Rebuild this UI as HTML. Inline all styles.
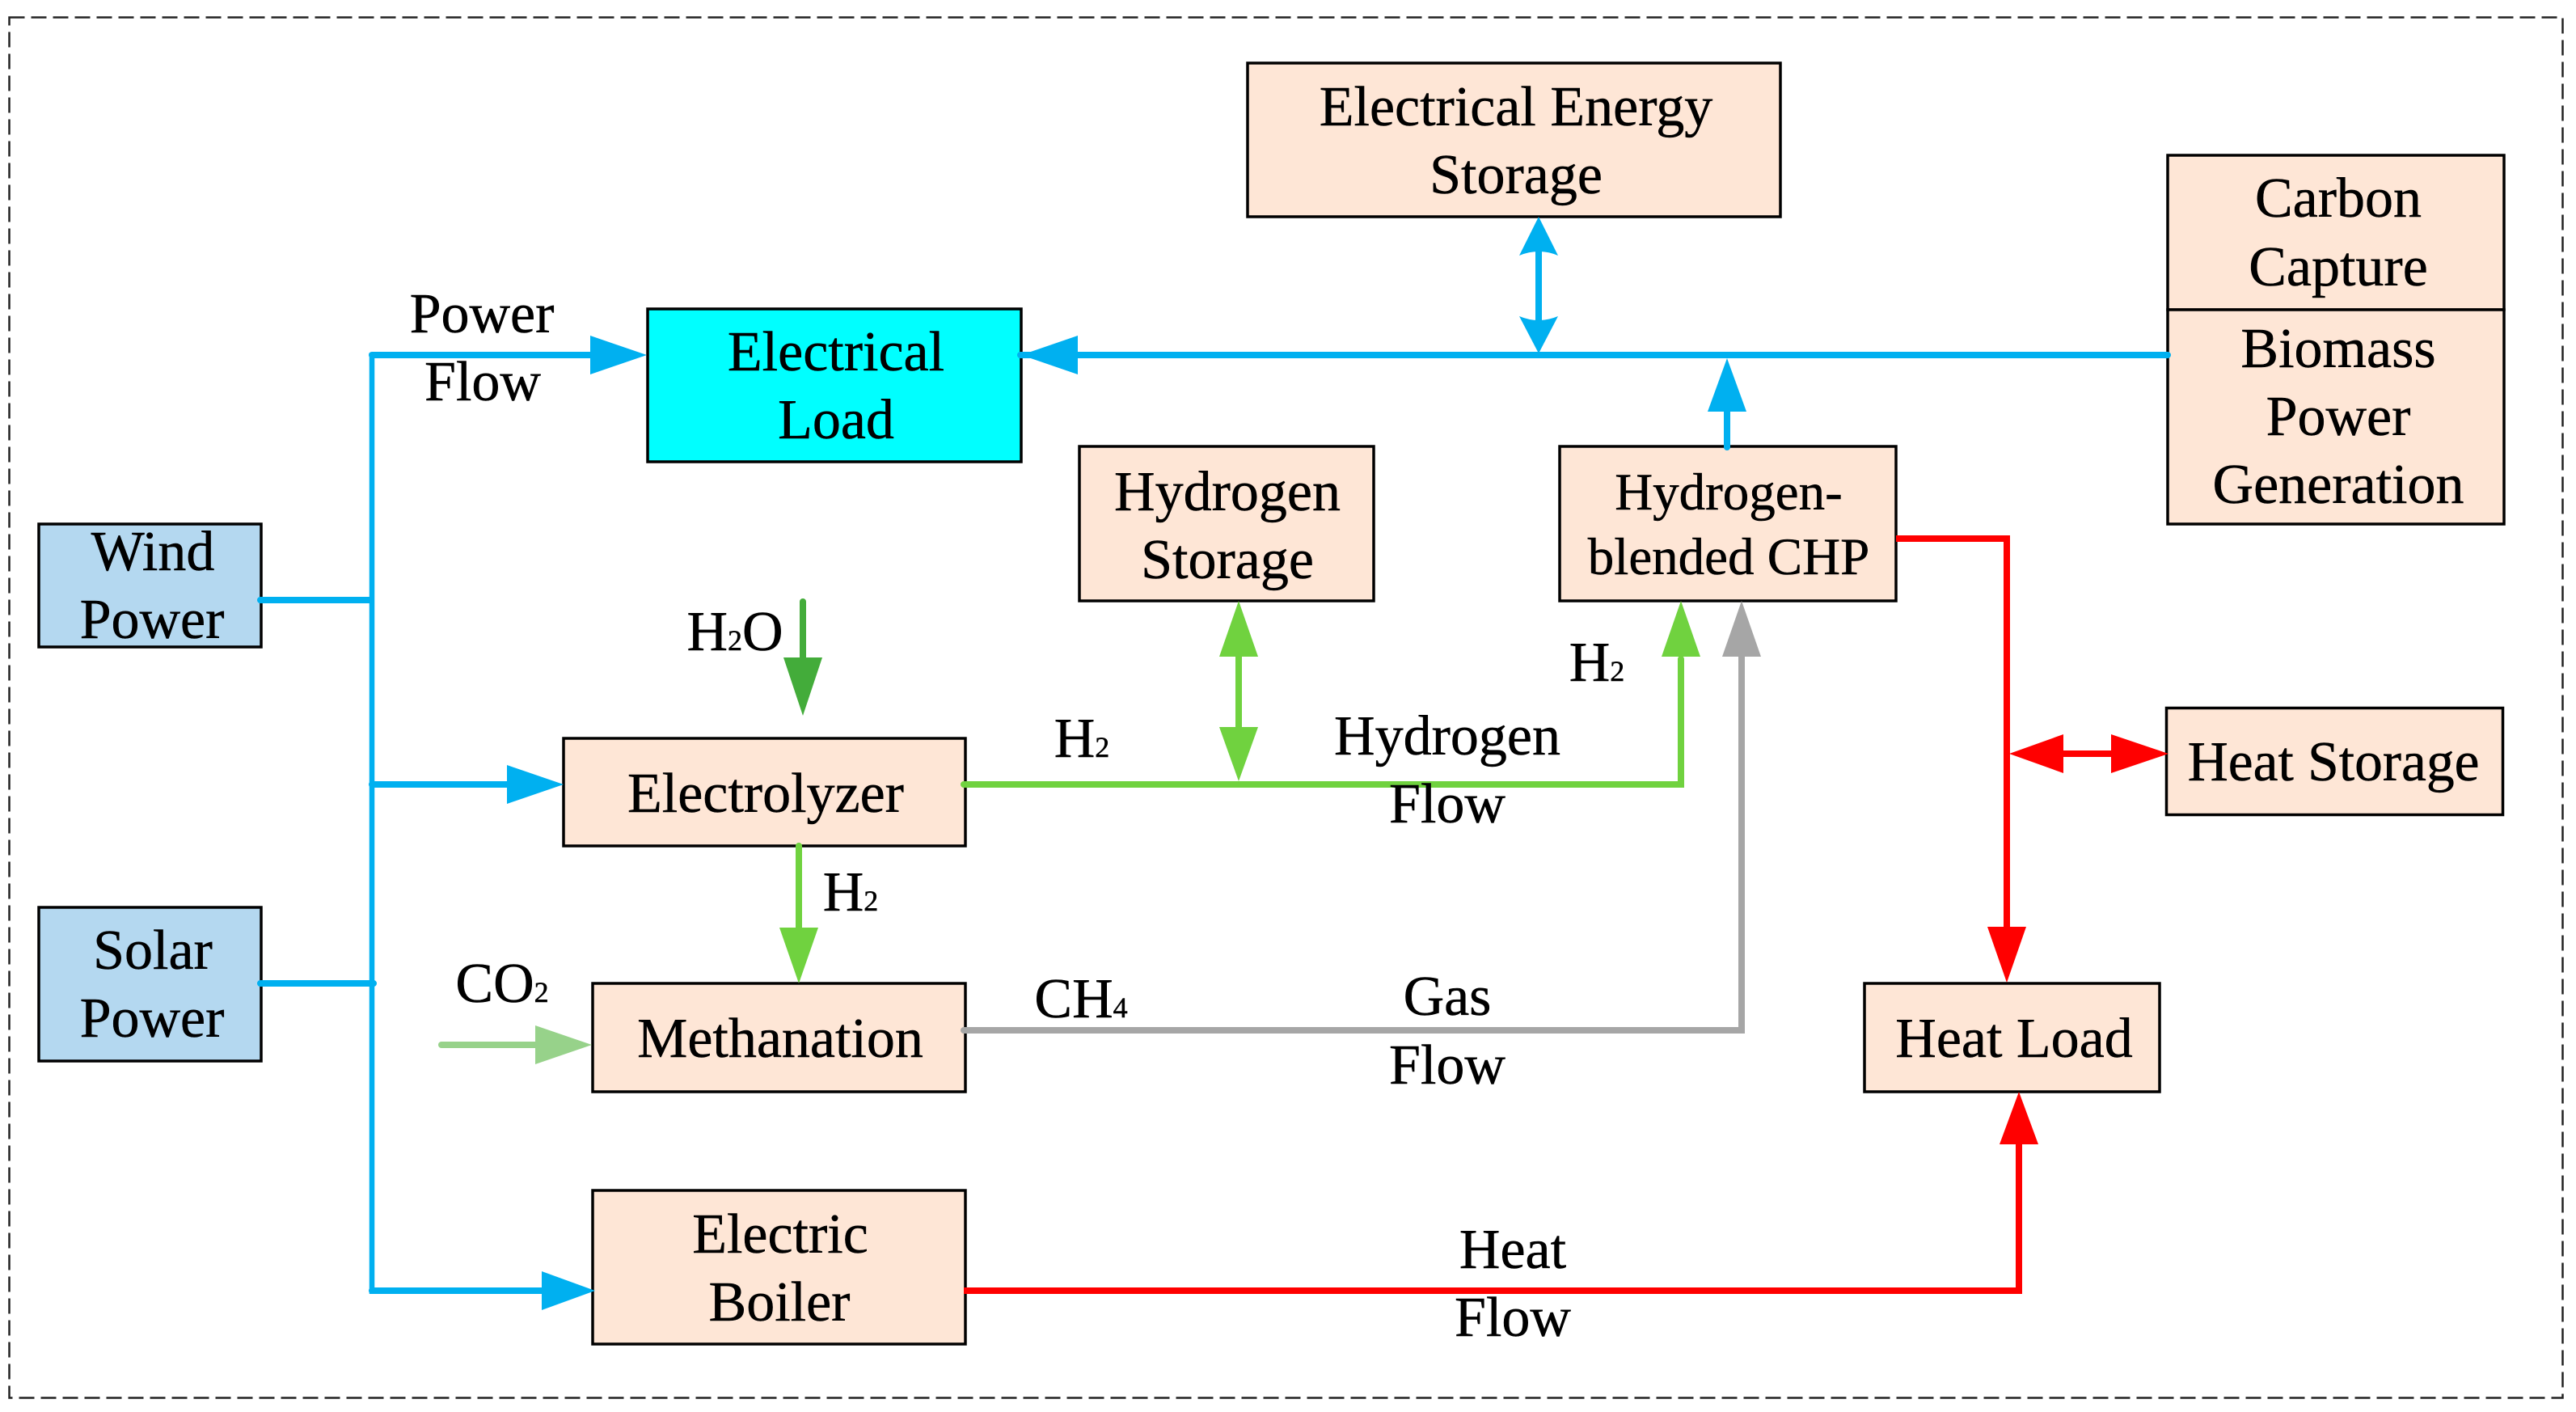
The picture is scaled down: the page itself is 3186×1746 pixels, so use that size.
<!DOCTYPE html>
<html><head><meta charset="utf-8"><style>
html,body{margin:0;padding:0;background:#fff}
svg{display:block}
text{font-family:"Liberation Serif",serif;font-size:70px;fill:#000;text-anchor:middle;stroke:#000;stroke-width:.5}
.s{font-size:36px}
.b{stroke:#000;stroke-width:3.5}
.p{fill:#FEE6D6}
.l{fill:none;stroke-width:8;stroke-linecap:round;stroke-linejoin:miter}
.v{stroke-width:6.5}
</style></head><body>
<svg width="3186" height="1746" viewBox="0 0 3186 1746" xmlns="http://www.w3.org/2000/svg">
<rect width="3186" height="1746" fill="#fff"/>
<rect x="11.5" y="21.5" width="3158" height="1707" fill="none" stroke="#222" stroke-width="2.5" stroke-dasharray="19 8"/>

<!-- boxes -->
<rect class="b p" x="1543" y="78" width="659" height="190"/>
<rect class="b p" x="2681" y="192" width="416" height="191"/>
<rect class="b p" x="2681" y="383" width="416" height="265"/>
<rect class="b" fill="#00FFFF" x="801" y="382" width="462" height="189"/>
<rect class="b" fill="#B4D8F0" x="48" y="648" width="275" height="152"/>
<rect class="b" fill="#B4D8F0" x="48" y="1122" width="275" height="190"/>
<rect class="b p" x="1335" y="552" width="364" height="191"/>
<rect class="b p" x="1929" y="552" width="416" height="191"/>
<rect class="b p" x="697" y="913" width="497" height="133"/>
<rect class="b p" x="733" y="1216" width="461" height="134"/>
<rect class="b p" x="733" y="1472" width="461" height="190"/>
<rect class="b p" x="2306" y="1216" width="365" height="134"/>
<rect class="b p" x="2679.5" y="875.5" width="416" height="132"/>

<!-- blue -->
<path class="l" stroke="#00B0F0" d="M322 742H458M322 1216H462M735 439H460M460 970H632M460 1596H675M1262 439H2681"/>
<path class="l v" stroke="#00B0F0" style="stroke-linecap:butt" d="M460 436V1600"/>
<path class="l" stroke="#00B0F0" d="M1903 310V397M2136 505V553"/>
<g fill="#00B0F0">
<path d="M730 415L800 439L730 463Z"/>
<path d="M627 946L697 970L627 994Z"/>
<path d="M670 1572L736 1596L670 1620Z"/>
<path d="M1333 415L1263 439L1333 463Z"/>
<path d="M1903 268L1927 316Q1903 306 1879 316Z"/>
<path d="M1903 437L1927 391Q1903 401 1879 391Z"/>
<path d="M2136 443L2160 509H2112Z"/>
</g>

<!-- green -->
<path class="l" stroke="#43AC3A" d="M993 744V815"/>
<path fill="#43AC3A" d="M969 813H1017L993 885Z"/>
<path class="l" stroke="#70D23F" d="M1192 970H2079V815M1532 810V900M988 1046V1150"/>
<g fill="#70D23F">
<path d="M1532 743L1556 812H1508Z"/>
<path d="M1532 966L1556 899H1508Z"/>
<path d="M2079 743L2103 812H2055Z"/>
<path d="M964 1147H1012L988 1216Z"/>
</g>
<path class="l" stroke="#97D28A" d="M546 1292H665"/>
<path fill="#97D28A" d="M662 1268L732 1292L662 1316Z"/>

<!-- gray -->
<path class="l" stroke="#A6A6A6" d="M1192 1274H2154V810"/>
<path fill="#A6A6A6" d="M2154 743L2178 812H2130Z"/>

<!-- red -->
<path class="l" stroke="#FF0000" style="stroke-linecap:butt" d="M2345 666H2482V1150M1192 1596H2497V1410M2550 932H2613"/>
<g fill="#FF0000">
<path d="M2458 1146H2506L2482 1215Z"/>
<path d="M2497 1350L2521 1415H2473Z"/>
<path d="M2485 932L2552 908V956Z"/>
<path d="M2682 932L2611 908V956Z"/>
</g>

<!-- labels -->
<text x="1875" y="155">Electrical Energy</text>
<text x="1875" y="239">Storage</text>
<text x="2892" y="268">Carbon</text>
<text x="2892" y="353">Capture</text>
<text x="2892" y="454">Biomass</text>
<text x="2892" y="538">Power</text>
<text x="2892" y="622">Generation</text>
<text x="596" y="411">Power</text>
<text x="597" y="495">Flow</text>
<text x="1034" y="458">Electrical</text>
<text x="1034" y="542">Load</text>
<text x="189" y="705">Wind</text>
<text x="188" y="789">Power</text>
<text x="189" y="1198">Solar</text>
<text x="188" y="1282">Power</text>
<text x="1518" y="631">Hydrogen</text>
<text x="1518" y="715">Storage</text>
<text x="2138" y="630" style="font-size:65px">Hydrogen-</text>
<text x="2138" y="710" style="font-size:65px">blended CHP</text>
<text x="909" y="804">H<tspan class="s">2</tspan>O</text>
<text x="947" y="1004">Electrolyzer</text>
<text x="1052" y="1126">H<tspan class="s">2</tspan></text>
<text x="621" y="1239">CO<tspan class="s">2</tspan></text>
<text x="965" y="1307">Methanation</text>
<text x="965" y="1549">Electric</text>
<text x="964" y="1633">Boiler</text>
<text x="1338" y="936">H<tspan class="s">2</tspan></text>
<text x="1975" y="842">H<tspan class="s">2</tspan></text>
<text x="1790" y="933">Hydrogen</text>
<text x="1790" y="1017">Flow</text>
<text x="1337" y="1258">CH<tspan class="s">4</tspan></text>
<text x="1790" y="1255">Gas</text>
<text x="1790" y="1340">Flow</text>
<text x="1871" y="1568">Heat</text>
<text x="1871" y="1652">Flow</text>
<text x="2491" y="1307">Heat Load</text>
<text x="2886" y="965" style="font-size:69.5px">Heat Storage</text>
</svg>
</body></html>
